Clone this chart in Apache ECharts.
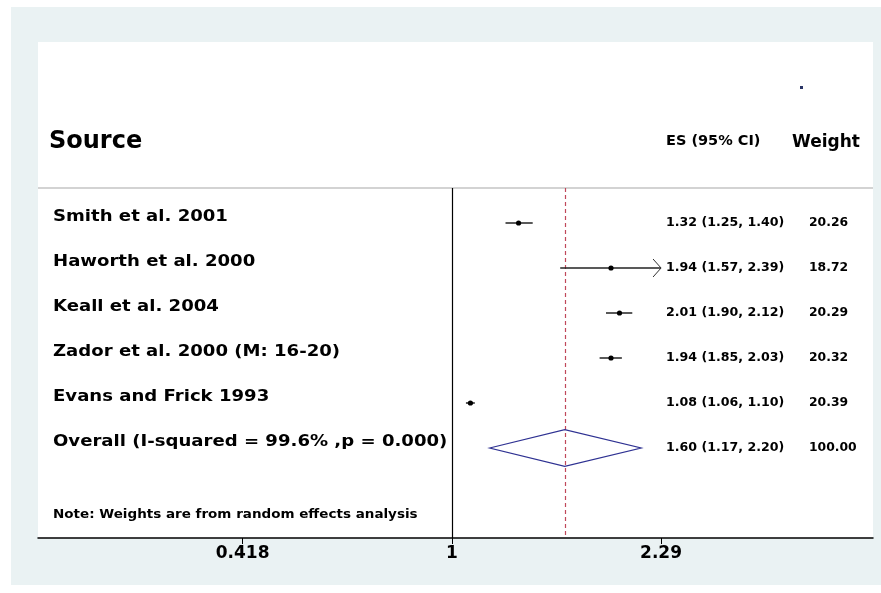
<!DOCTYPE html>
<html>
<head>
<meta charset="utf-8">
<script src="https://cdn.jsdelivr.net/npm/echarts@6/dist/echarts.min.js"></script>
<style>
  html, body { margin: 0; padding: 0; background: #ffffff; }
  #chart { width: 881px; height: 593px; }
</style>
</head>
<body>
<div id="chart"></div>
<script>
// Study-level estimates (ratio scale)
const studies = ['Smith et al. 2001', 'Haworth et al. 2000', 'Keall et al. 2004', 'Zador et al. 2000 (M: 16-20)', 'Evans and Frick 1993'];
const es = [1.32, 1.94, 2.01, 1.94, 1.08];
const ciLow = [1.25, 1.57, 1.90, 1.85, 1.06];
const ciHigh = [1.40, 2.39, 2.12, 2.03, 1.10];
const weights = [20.26, 18.72, 20.29, 20.32, 20.39];

// Pooled random-effects estimate
const overallLabel = 'Overall (I-squared = 99.6% ,p = 0.000)';
const overallES = 1.60;
const overallLow = 1.17;
const overallHigh = 2.20;
const overallWeight = 100.00;

// Axis ticks and their printed labels
const tickValues = [0.418, 1, 2.39];
const tickLabels = ['0.418', '1', '2.29'];
const ciClip = 2.39; // confidence limits at or beyond this are drawn with an arrow

const noteText = 'Note: Weights are from random effects analysis';

const FONT = 'DejaVu Sans';
const fmt = v => v.toFixed(2);
const ciText = (e, l, h) => fmt(e) + ' (' + fmt(l) + ', ' + fmt(h) + ')';

const rowData = studies.map((s, i) => [es[i], ciLow[i], ciHigh[i], i + 1, weights[i], i]);
const overallRow = studies.length + 1;

const labelX = 53, esX = 666, wX = 809;

// bold text, stretched a little horizontally to get the wide, tracked look
function textEl(x, y, text, size, sx) {
  return {
    type: 'text', x: x, y: y, scaleX: sx || 1, originX: 0, originY: 0,
    style: { text: text, fill: '#000', font: 'bold ' + size + 'px "' + FONT + '"', align: 'left', verticalAlign: 'middle' }
  };
}

function renderStudy(params, api) {
  const e = api.value(0), lo = api.value(1), hi = api.value(2), row = api.value(3), w = api.value(4), idx = api.value(5);
  const pE = api.coord([e, row]);
  const pL = api.coord([lo, row]);
  const clipped = hi >= ciClip;
  const pH = api.coord([clipped ? ciClip : hi, row]);
  const y = pE[1];
  const children = [
    { type: 'line', shape: { x1: pL[0], y1: y, x2: pH[0], y2: y }, style: { stroke: '#222', lineWidth: 1.5 } },
    { type: 'circle', shape: { cx: pE[0], cy: y, r: 2.6 }, style: { fill: '#000' } },
    textEl(labelX, y - 6, studies[idx], 16, 1.13),
    textEl(esX, y, ciText(e, lo, hi), 12, 1.05),
    textEl(wX, y, fmt(w), 12, 1.03)
  ];
  if (clipped) {
    children.push({ type: 'polyline', shape: { points: [[pH[0] - 8, y - 9], [pH[0], y], [pH[0] - 8, y + 9]] }, style: { stroke: '#333', lineWidth: 1, fill: null } });
  }
  return { type: 'group', children: children };
}

function renderOverall(params, api) {
  const e = api.value(0), lo = api.value(1), hi = api.value(2), row = api.value(3), w = api.value(4);
  const pE = api.coord([e, row]);
  const pL = api.coord([lo, row]);
  const pH = api.coord([hi, row]);
  const top = api.coord([e, row - 0.41])[1];
  const bot = api.coord([e, row + 0.41])[1];
  const y = pE[1];
  return {
    type: 'group',
    children: [
      { type: 'polygon', shape: { points: [[pL[0], y], [pE[0], top], [pH[0], y], [pE[0], bot]] }, style: { stroke: '#2e3192', lineWidth: 1.2, fill: null } },
      textEl(labelX, y - 6, overallLabel, 16, 1.13),
      textEl(esX, y, ciText(e, lo, hi), 12, 1.05),
      textEl(wX, y, fmt(w), 12, 1.03)
    ]
  };
}

const chart = echarts.init(document.getElementById('chart'), null, { renderer: 'canvas' });

chart.setOption({
  backgroundColor: '#ffffff',
  animation: false,
  graphic: [
    { type: 'rect', z: -10, shape: { x: 11, y: 7, width: 870, height: 578 }, style: { fill: '#eaf2f3' } },
    { type: 'rect', z: -9, shape: { x: 38, y: 42, width: 835, height: 496 }, style: { fill: '#ffffff' } },
    { type: 'line', z: 1, shape: { x1: 38, y1: 188, x2: 873, y2: 188 }, style: { stroke: '#c4c4c4', lineWidth: 1.5 } },
    { type: 'text', left: 49, top: 130, style: { text: 'Source', font: 'bold 24px "' + FONT + '"', fill: '#000' } },
    { type: 'text', left: 666, top: 134, style: { text: 'ES (95% CI)', font: 'bold 14.5px "' + FONT + '"', fill: '#000' } },
    { type: 'text', left: 792, top: 134, style: { text: 'Weight', font: 'bold 17px "' + FONT + '"', fill: '#000' } },
    { type: 'text', x: labelX, y: 515, scaleX: 1.08, style: { text: noteText, font: 'bold 12.5px "' + FONT + '"', fill: '#000', verticalAlign: 'middle' } },
    { type: 'rect', shape: { x: 800, y: 86, width: 3, height: 3 }, style: { fill: '#2a3566' } }
  ],
  grid: { left: 38, right: 8, top: 178, bottom: 55 },
  xAxis: {
    type: 'log',
    logBase: Math.E,
    position: 'bottom',
    min: 0.1782,
    max: 5.78,
    axisLine: { show: true, onZero: false, lineStyle: { color: '#000', width: 1.5 } },
    axisTick: { show: true, inside: false, length: 6, lineStyle: { color: '#000', width: 1 }, customValues: tickValues },
    axisLabel: {
      show: true, margin: 7, color: '#000', fontFamily: FONT, fontWeight: 'bold', fontSize: 17,
      customValues: tickValues,
      formatter: v => { const i = tickValues.findIndex(t => Math.abs(t - v) < 1e-6); return i >= 0 ? tickLabels[i] : ''; }
    },
    splitLine: { show: false }
  },
  yAxis: {
    type: 'value', min: 0, max: 8, inverse: true, show: false,
    splitLine: { show: false }
  },
  series: [
    {
      type: 'custom',
      name: 'studies',
      renderItem: renderStudy,
      encode: { x: [0, 1, 2], y: 3 },
      data: rowData,
      clip: false,
      z: 5,
      markLine: {
        silent: true, symbol: 'none', label: { show: false },
        data: [
          [{ coord: [1, 0.22], lineStyle: { color: '#000', width: 1.2, type: 'solid' } }, { coord: [1, 8] }],
          [{ coord: [overallES, 0.22], lineStyle: { color: '#c0485a', width: 1.2, type: [4, 3] } }, { coord: [overallES, 8] }]
        ]
      }
    },
    {
      type: 'custom',
      name: 'overall',
      renderItem: renderOverall,
      encode: { x: [0, 1, 2], y: 3 },
      data: [[overallES, overallLow, overallHigh, overallRow, overallWeight]],
      clip: false,
      z: 5
    }
  ]
});
</script>
</body>
</html>
